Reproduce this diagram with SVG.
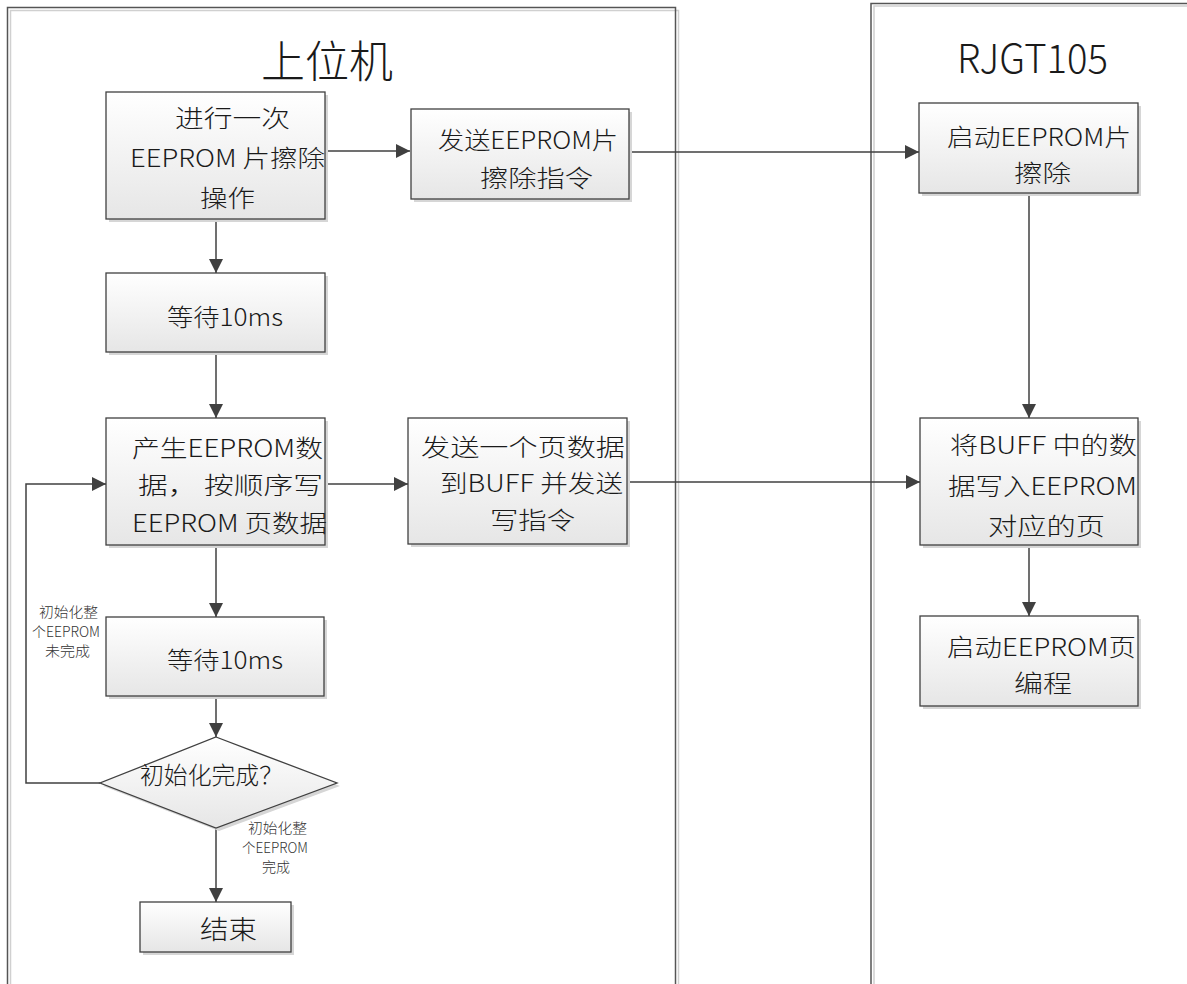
<svg xmlns="http://www.w3.org/2000/svg" width="1187" height="984" viewBox="0 0 1187 984">
<defs>
<linearGradient id="g" x1="0" y1="0" x2="0" y2="1">
<stop offset="0" stop-color="#ffffff"/>
<stop offset="1" stop-color="#e6e6e6"/>
</linearGradient>
<marker id="ah" markerWidth="14" markerHeight="14" refX="14" refY="7" orient="auto" markerUnits="userSpaceOnUse">
<path d="M0,0 L14,7 L0,14 Z" fill="#404040"/>
</marker>
</defs>
<style>
.lane{fill:none;stroke:#555555;stroke-width:1.5}
.laneSh{fill:none;stroke:#d0d0d0;stroke-width:1.5}
.box{fill:url(#g);stroke:#404040;stroke-width:1.3}
.sh{fill:#d6d6d6}
.t{font-family:"Noto Sans CJK SC","Liberation Sans",sans-serif;font-size:24px;font-weight:300;fill:#1a1a1a}
.s{font-family:"Noto Sans CJK SC","Liberation Sans",sans-serif;font-size:14px;font-weight:300;fill:#333333}
.c{fill:none;stroke:#404040;stroke-width:1.5}
</style>
<rect width="1187" height="984" fill="#ffffff"/>
<g id="lane-host">
<rect class="laneSh" x="10.5" y="10.5" width="668" height="1000"/>
<rect class="lane" x="7.5" y="7.5" width="668" height="1000"/>
<text class="t" x="261" y="78" style="font-size:44px" textLength="132" lengthAdjust="spacingAndGlyphs">上位机</text>
</g>
<g id="lane-rjgt">
<rect class="laneSh" x="874" y="6" width="400" height="1000"/>
<rect class="lane" x="871" y="3.5" width="400" height="1000"/>
<text class="t" x="957" y="73" style="font-size:40px" textLength="151" lengthAdjust="spacingAndGlyphs">RJGT105</text>
</g>
<g id="connectors">
<line class="c" x1="325" y1="151" x2="410" y2="151" marker-end="url(#ah)"/>
<line class="c" x1="629" y1="152" x2="919" y2="152" marker-end="url(#ah)"/>
<line class="c" x1="216" y1="219" x2="216" y2="273" marker-end="url(#ah)"/>
<line class="c" x1="216" y1="352" x2="216" y2="418" marker-end="url(#ah)"/>
<line class="c" x1="325" y1="484" x2="408" y2="484" marker-end="url(#ah)"/>
<line class="c" x1="627" y1="482" x2="920" y2="482" marker-end="url(#ah)"/>
<line class="c" x1="1029" y1="193" x2="1029" y2="418" marker-end="url(#ah)"/>
<line class="c" x1="1029" y1="545" x2="1029" y2="616" marker-end="url(#ah)"/>
<line class="c" x1="216" y1="545" x2="216" y2="617" marker-end="url(#ah)"/>
<line class="c" x1="216" y1="696" x2="216" y2="737" marker-end="url(#ah)"/>
<line class="c" x1="216" y1="828" x2="216" y2="902" marker-end="url(#ah)"/>
<polyline class="c" points="100,783 26,783 26,484 106,484" marker-end="url(#ah)"/>
<text class="s" x="39" y="617" textLength="59" lengthAdjust="spacingAndGlyphs">初始化整</text>
<text class="s" x="32" y="637" textLength="68" lengthAdjust="spacingAndGlyphs">个EEPROM</text>
<text class="s" x="45" y="656" textLength="45" lengthAdjust="spacingAndGlyphs">未完成</text>
<text class="s" x="248" y="833" textLength="59" lengthAdjust="spacingAndGlyphs">初始化整</text>
<text class="s" x="242" y="853" textLength="66" lengthAdjust="spacingAndGlyphs">个EEPROM</text>
<text class="s" x="262" y="872" textLength="28" lengthAdjust="spacingAndGlyphs">完成</text>
</g>
<g id="node-erase-op">
<rect class="sh" x="109" y="95" width="219" height="127"/>
<rect class="box" x="106" y="92" width="219" height="127"/>
<text class="t" x="175" y="127" textLength="115" lengthAdjust="spacingAndGlyphs">进行一次</text>
<text class="t" x="130" y="167" textLength="195" lengthAdjust="spacingAndGlyphs">EEPROM 片擦除</text>
<text class="t" x="200" y="207" textLength="55" lengthAdjust="spacingAndGlyphs">操作</text>
</g>
<g id="node-send-erase">
<rect class="sh" x="414" y="112" width="218" height="90"/>
<rect class="box" x="411" y="109" width="218" height="90"/>
<text class="t" x="438" y="149" textLength="180" lengthAdjust="spacingAndGlyphs">发送EEPROM片</text>
<text class="t" x="480" y="187" textLength="113" lengthAdjust="spacingAndGlyphs">擦除指令</text>
</g>
<g id="node-start-erase">
<rect class="sh" x="922" y="106" width="219" height="90"/>
<rect class="box" x="919" y="103" width="219" height="90"/>
<text class="t" x="947" y="146" textLength="184" lengthAdjust="spacingAndGlyphs">启动EEPROM片</text>
<text class="t" x="1014" y="182" textLength="57" lengthAdjust="spacingAndGlyphs">擦除</text>
</g>
<g id="node-wait1">
<rect class="sh" x="109" y="276" width="219" height="79"/>
<rect class="box" x="106" y="273" width="219" height="79"/>
<text class="t" x="167" y="326" textLength="116" lengthAdjust="spacingAndGlyphs">等待10ms</text>
</g>
<g id="node-gen-data">
<rect class="sh" x="109" y="421" width="219" height="127"/>
<rect class="box" x="106" y="418" width="219" height="127"/>
<text class="t" x="132" y="457" textLength="191" lengthAdjust="spacingAndGlyphs">产生EEPROM数</text>
<text class="t" x="138" y="494" textLength="185" lengthAdjust="spacingAndGlyphs">据， 按顺序写</text>
<text class="t" x="132" y="532" textLength="195" lengthAdjust="spacingAndGlyphs">EEPROM 页数据</text>
</g>
<g id="node-send-page">
<rect class="sh" x="411" y="421" width="219" height="126"/>
<rect class="box" x="408" y="418" width="219" height="126"/>
<text class="t" x="421" y="456" textLength="204" lengthAdjust="spacingAndGlyphs">发送一个页数据</text>
<text class="t" x="440" y="492" textLength="183" lengthAdjust="spacingAndGlyphs">到BUFF 并发送</text>
<text class="t" x="490" y="529" textLength="85" lengthAdjust="spacingAndGlyphs">写指令</text>
</g>
<g id="node-write-buff">
<rect class="sh" x="923" y="421" width="218" height="127"/>
<rect class="box" x="920" y="418" width="218" height="127"/>
<text class="t" x="950" y="454" textLength="187" lengthAdjust="spacingAndGlyphs">将BUFF 中的数</text>
<text class="t" x="948" y="495" textLength="189" lengthAdjust="spacingAndGlyphs">据写入EEPROM</text>
<text class="t" x="988" y="535" textLength="117" lengthAdjust="spacingAndGlyphs">对应的页</text>
</g>
<g id="node-page-prog">
<rect class="sh" x="923" y="619" width="218" height="90"/>
<rect class="box" x="920" y="616" width="218" height="90"/>
<text class="t" x="947" y="656" textLength="189" lengthAdjust="spacingAndGlyphs">启动EEPROM页</text>
<text class="t" x="1014" y="692" textLength="58" lengthAdjust="spacingAndGlyphs">编程</text>
</g>
<g id="node-wait2">
<rect class="sh" x="109" y="620" width="218" height="79"/>
<rect class="box" x="106" y="617" width="218" height="79"/>
<text class="t" x="167" y="669" textLength="116" lengthAdjust="spacingAndGlyphs">等待10ms</text>
</g>
<g id="node-decision">
<polygon points="219,740 340,786 219,831 103,786" fill="#d6d6d6"/>
<polygon points="216,737 337,783 216,828 100,783" fill="url(#g)" stroke="#404040" stroke-width="1.3"/>
<text class="t" x="140" y="784" textLength="143" lengthAdjust="spacingAndGlyphs">初始化完成？</text>
</g>
<g id="node-end">
<rect class="sh" x="143" y="905" width="151" height="50"/>
<rect class="box" x="140" y="902" width="151" height="50"/>
<text class="t" x="200" y="939" style="font-size:26px" textLength="57" lengthAdjust="spacingAndGlyphs">结束</text>
</g>
</svg>
